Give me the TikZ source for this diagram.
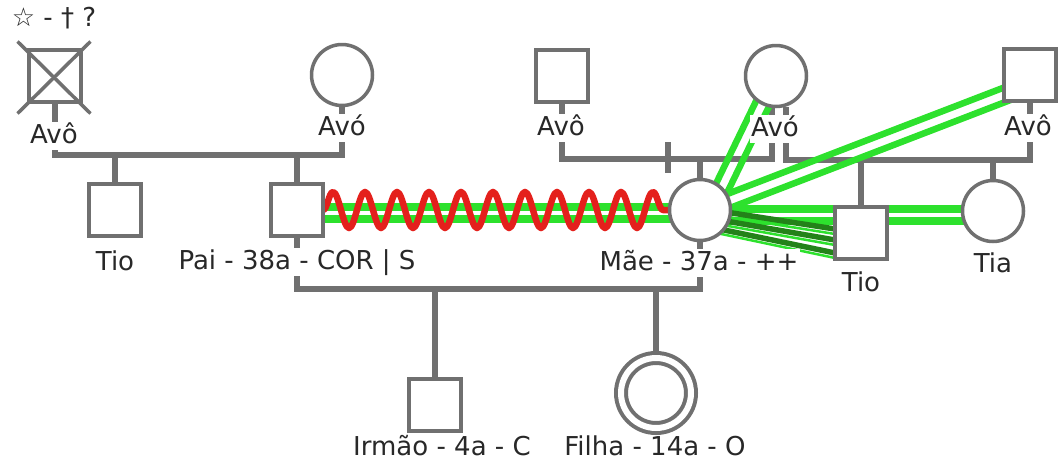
\documentclass[tikz,border=0pt]{standalone}
\usepackage{fontspec}
\setmainfont{DejaVu Sans}
\usepackage{tikz}
\usetikzlibrary{calc,decorations.pathmorphing}
\definecolor{linegray}{RGB}{112,112,112}
\definecolor{closegreen}{RGB}{45,225,45}
\definecolor{fusedgreen}{RGB}{35,130,25}
\definecolor{hostilered}{RGB}{228,32,28}
\definecolor{textgray}{RGB}{40,40,40}
\pgfdeclarelayer{famlayer}
\pgfdeclarelayer{taglayer}
\pgfdeclarelayer{emolayer}
\pgfsetlayers{famlayer,emolayer,taglayer,main}

\begin{document}
\begin{tikzpicture}[x=1pt, y=-1pt,
  every node/.style={font=\fontsize{26}{30}\selectfont, text=textgray},
  man/.style={rectangle, draw=linegray, fill=white, line width=4pt, minimum size=52pt, inner sep=0pt, outer sep=0pt},
  woman/.style={circle, draw=linegray, fill=white, line width=3.5pt, minimum size=61pt, inner sep=0pt, outer sep=0pt},
  tag/.style={fill=white, inner sep=1.5pt, text height=20pt, text depth=5pt},
  famline/.style={draw=linegray, line width=6pt},
  closeline/.style={draw=closegreen, line width=8pt, double=white, double distance=4pt},
  twinline/.style={draw=closegreen, line width=6.5pt},
  fusedline/.style={draw=fusedgreen, line width=5.5pt},
  waveline/.style={draw=hostilered, line width=6.5pt, line cap=round, line join=round,
    decorate, decoration={snake, segment length=32pt, amplitude=18pt}}]
\useasboundingbox (0,0) rectangle (1058,469);
% persons
\node[man] (avoA) at (54.5,75.5) {};
\node[woman] (avaA) at (342,75) {};
\node[man] (avoB) at (562,76) {};
\node[woman] (avaB) at (776,76) {};
\node[man] (avoC) at (1030,75) {};
\node[man] (tioA) at (115,210) {};
\node[man] (pai) at (297,210) {};
\node[woman] (mae) at (700,210) {};
\node[man] (tioB) at (861,233) {};
\node[woman] (tia) at (993,211) {};
\node[man] (irmao) at (434.5,405) {};
\node[woman, minimum size=70pt, line width=4pt, double, double distance=6pt] (filha) at (656,393) {};
% deceased mark
\draw[draw=linegray, line width=3.5pt] ($(avoA.north west)+(-11,-8)$) -- ($(avoA.south east)+(10,12)$);
\draw[draw=linegray, line width=3.5pt] ($(avoA.north east)+(10,-8)$) -- ($(avoA.south west)+(-11,12)$);

% labels
\begin{pgfonlayer}{taglayer}
\node (tdead) at (54,18) {☆ - † ?};
\node[tag] (tavoA) at (54,136) {Avô};
\node[tag] (tavaA) at (342,128) {Avó};
\node[tag] (tavoB) at (561,128) {Avô};
\node[tag] (tavaB) at (775,129) {Avó};
\node[tag] (tavoC) at (1028,128) {Avô};
\node[tag] (ttioA) at (115,263) {Tio};
\node[tag] (tpai) at (297,262) {Pai - 38a - COR | S};
\node[tag] (tmae) at (699,263) {Mãe - 37a - ++};
\node[tag] (ttioB) at (861,284) {Tio};
\node[tag] (ttia) at (993,265) {Tia};
\node[tag] (tirmao) at (442,448) {Irmão - 4a - C};
\node[tag] (tfilha) at (655,448) {Filha - 14a - O};
\end{pgfonlayer}

% family lines
\begin{pgfonlayer}{famlayer}
\coordinate (cA) at (198,155);
\coordinate (cB) at (668,159);
\coordinate (cC) at (908,160);
\coordinate (cP) at (500,289);
\draw[famline] (avoA.south) |- (cA) -| (avaA.south);
\draw[famline] (tioA.north) |- (cA);
\draw[famline] (pai.north) |- (cA);
\draw[famline] (avoB.south) |- (cB) -| ($(avaB.south)+(-4,0)$);
\draw[famline] ($(cB)+(0,-17)$) -- ($(cB)+(0,14)$);
\draw[famline] (mae.north) |- (cB);
\draw[famline] ($(avaB.south)+(10,0)$) |- (cC) -| (avoC.south);
\draw[famline] (tioB.north) |- (cC);
\draw[famline] (tia.north) |- (cC);
\draw[famline] (pai.south) |- (cP) -| (mae.south);
\draw[famline] (irmao.north) |- (cP);
\draw[famline] (filha.north) |- (cP);
\end{pgfonlayer}

% emotional lines
\begin{pgfonlayer}{emolayer}
\coordinate (maeU) at ($(mae.center)+(11,0)$);
\coordinate (maeR) at ($(mae.center)+(0,2)$);
\coordinate (avoCin) at ($(avoC.center)+(0,10)$);
\draw[closeline] ($(pai.center)+(0,3)$) -- ($(mae.center)+(0,3)$);
\draw[waveline] (pai.east) -- (mae.west);
\draw[closeline] ($(mae.center)+(0,5)$) -- ($(tia.center)+(0,4)$);
\foreach \d in {-7,7} {
  \draw[twinline] ($(maeU)!\d pt!-90:(avaB.center)$) -- ($(avaB.center)!\d pt!90:(maeU)$);
  \draw[twinline] ($(maeR)!\d pt!-90:(avoCin)$) -- ($(avoCin)!\d pt!90:(maeR)$);
}
\foreach \a/\b in {-2/-4, 6.5/7, 15/20} {
  \draw[fusedline] ($(mae.center)+(0,\a)$) -- ($(tioB.west)+(0,\b)$);
  \draw[twinline, line width=2.5pt] ($(mae.center)+(0,\a+4.5)$) -- ($(tioB.west)+(0,\b+5)$);
}
\end{pgfonlayer}
\end{tikzpicture}
\end{document}
